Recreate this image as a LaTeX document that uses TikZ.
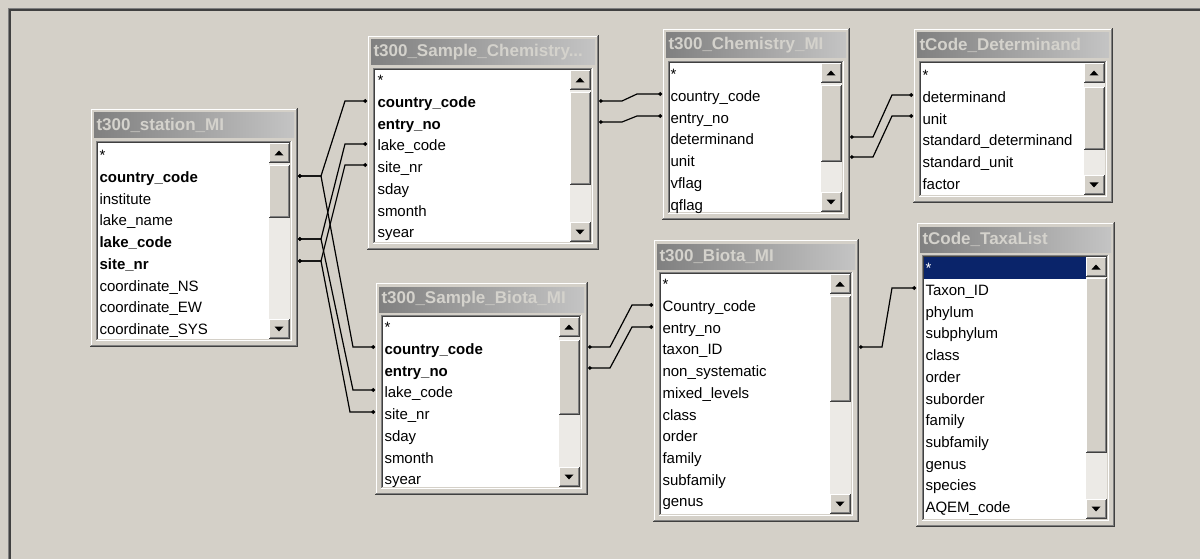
\documentclass[tikz,border=0pt]{standalone}
\usepackage{fontspec}
\setmainfont{Liberation Sans}
\usetikzlibrary{arrows.meta}
\definecolor{face}{HTML}{D4D0C8}
\definecolor{shadow}{HTML}{808080}
\definecolor{dkshadow}{HTML}{404040}
\definecolor{ltgray}{HTML}{C4C4C4}
\definecolor{track}{HTML}{ECEAE6}
\definecolor{selbg}{HTML}{0A246A}
\definecolor{ttext}{HTML}{D4D2CC}
\tikzset{
 rowtext/.style={anchor=base west, inner sep=0, font=\fontsize{15}{18}\selectfont, text=black},
 ttl/.style={anchor=west, inner sep=0, font=\fontsize{17}{20}\selectfont\bfseries, text=ttext},
 conn/.style={draw=black, line width=1.2pt, {Circle[length=3.6pt]}-{Circle[length=3.6pt]}},
}
% raised box: x1 y1 x2 y2 (y grows downward)
\newcommand\rbox[4]{%
 \fill[face] (#1,#2) rectangle (#3,#4);
 \draw[white] ({#1+0.5},{#4-1}) -- ({#1+0.5},{#2+0.5}) -- ({#3-1},{#2+0.5});
 \draw[dkshadow] ({#1},{#4-0.5}) -- ({#3-0.5},{#4-0.5}) -- ({#3-0.5},{#2});
 \draw[shadow] ({#1+1},{#4-1.5}) -- ({#3-1.5},{#4-1.5}) -- ({#3-1.5},{#2+1});
}
% window: name L T R B title thumbTop thumbBot
\newcommand\dbwin[8]{%
 \node[anchor=north west, minimum width={(#4-#2)*1pt}, minimum height={(#5-#3)*1pt}, inner sep=0, outer sep=0, fill=face] (#1) at (#2,#3) {};
 \draw[white] ({#2+1.5},{#5-2}) -- ({#2+1.5},{#3+1.5}) -- ({#4-2},{#3+1.5});
 \draw[dkshadow, line width=1.5pt] ({#2},{#5-0.75}) -- ({#4-0.75},{#5-0.75}) -- ({#4-0.75},{#3});
 \draw[shadow] ({#2+1},{#5-2}) -- ({#4-2},{#5-2}) -- ({#4-2},{#3+1});
 \shade[left color=shadow, right color=ltgray] ({#2+4},{#3+5}) rectangle ({#4-4},{#3+30});
 \node[ttl] at ({#2+6},{#3+17.5}) {#6};
 \fill[white] ({#2+6},{#3+33}) rectangle ({#4-6},{#5-6});
 \draw[shadow] ({#2+6.5},{#5-6}) -- ({#2+6.5},{#3+33.5}) -- ({#4-6},{#3+33.5});
 \draw[dkshadow] ({#2+7.5},{#5-7}) -- ({#2+7.5},{#3+34.5}) -- ({#4-7},{#3+34.5});
 \draw[white] ({#2+6},{#5-6.5}) -- ({#4-6.5},{#5-6.5}) -- ({#4-6.5},{#3+33});
 \draw[face] ({#2+7},{#5-7.5}) -- ({#4-7.5},{#5-7.5}) -- ({#4-7.5},{#3+34});
 \fill[track] ({#4-29},{#3+35}) rectangle ({#4-8},{#5-8});
 \rbox{#4-29}{#3+35}{#4-8}{#3+55}
 \rbox{#4-29}{#5-28}{#4-8}{#5-8}
 \rbox{#4-29}{#7}{#4-8}{#8}
 \fill[black] ({#4-23.5},{#3+47.5}) -- ({#4-14.5},{#3+47.5}) -- ({#4-19},{#3+42.5}) -- cycle;
 \fill[black] ({#4-23.5},{#5-20.5}) -- ({#4-14.5},{#5-20.5}) -- ({#4-19},{#5-15.5}) -- cycle;
}
% rows: x y0 list
\newcommand\dbrows[3]{%
 \foreach \t [count=\i from 0] in {#3} {\node[rowtext] at (#1, {#2+4.5+21.7*\i}) {\t};}
}
\begin{document}
\begin{tikzpicture}[x=1pt, y=-1pt, line width=1pt]
\useasboundingbox (0,0) rectangle (1200,559);
\fill[face] (0,0) rectangle (1200,559);
\draw[shadow] (8.5,559) -- (8.5,8.5) -- (1200,8.5);
\draw[dkshadow, line width=1.5pt] (10,559) -- (10,10) -- (1200,10);

% tables
\dbwin{st}{90}{108}{298}{347}{t300\_station\_MI}{165}{218}
\dbrows{99}{156.3}{*, \textbf{country\_code}, institute, lake\_name, \textbf{lake\_code}, \textbf{site\_nr}, coordinate\_NS, coordinate\_EW, coordinate\_SYS}

\dbwin{sc}{367}{35}{599}{250}{t300\_Sample\_Chemistry...}{92}{185}
\dbrows{377}{81.3}{*, \textbf{country\_code}, \textbf{entry\_no}, lake\_code, site\_nr, sday, smonth, syear}

\dbwin{ch}{662}{28}{850}{220}{t300\_Chemistry\_MI}{85}{162}
\dbrows{670}{75.3}{*, country\_code, entry\_no, determinand, unit, vflag, qflag}

\dbwin{de}{913}{28}{1113}{203}{tCode\_Determinand}{87}{150}
\dbrows{922}{76.3}{*, determinand, unit, standard\_determinand, standard\_unit, factor}

\dbwin{sb}{375}{282}{588}{495}{t300\_Sample\_Biota\_MI}{340}{415}
\dbrows{384}{328.3}{*, \textbf{country\_code}, \textbf{entry\_no}, lake\_code, site\_nr, sday, smonth, syear}

\dbwin{bi}{653}{239}{859}{522}{t300\_Biota\_MI}{296}{402}
\dbrows{662}{285.3}{*, Country\_code, entry\_no, taxon\_ID, non\_systematic, mixed\_levels, class, order, family, subfamily, genus}

\dbwin{tl}{916}{222}{1115}{527}{tCode\_TaxaList}{278}{453}
\fill[selbg] (924,257) rectangle (1086,279);
\node[rowtext, text=white] at (925, 273.8) {*};
\dbrows{925}{291}{Taxon\_ID, phylum, subphylum, class, order, suborder, family, subfamily, genus, species, AQEM\_code}

% connector end points
\coordinate (st-cc) at (298,176);
\coordinate (st-lc) at (298,239);
\coordinate (st-sn) at (298,261);
\coordinate (sc-cc-l) at (367,101);
\coordinate (sc-lc-l) at (367,144);
\coordinate (sc-sn-l) at (367,165);
\coordinate (sb-cc-l) at (375,347);
\coordinate (sb-lc-l) at (375,390);
\coordinate (sb-sn-l) at (375,412);
\coordinate (sc-cc-r) at (599,101);
\coordinate (sc-en-r) at (599,122);
\coordinate (ch-cc-l) at (662,94);
\coordinate (ch-en-l) at (662,116);
\coordinate (ch-de-r) at (850,137);
\coordinate (ch-un-r) at (850,157);
\coordinate (de-de-l) at (913,95);
\coordinate (de-un-l) at (913,116);
\coordinate (sb-cc-r) at (588,347);
\coordinate (sb-en-r) at (588,368);
\coordinate (bi-cc-l) at (653,305);
\coordinate (bi-en-l) at (653,327);
\coordinate (bi-tx-r) at (859,347);
\coordinate (tl-tx-l) at (916,288);

% connectors
\draw[conn] (st-cc) -- ++(23,0) -- ([xshift=-22pt]sc-cc-l) -- (sc-cc-l);
\draw[conn] (st-cc) -- ++(23,0) -- ([xshift=-22pt]sb-cc-l) -- (sb-cc-l);
\draw[conn] (st-lc) -- ++(23,0) -- ([xshift=-22pt]sc-lc-l) -- (sc-lc-l);
\draw[conn] (st-lc) -- ++(23,0) -- ([xshift=-22pt]sb-lc-l) -- (sb-lc-l);
\draw[conn] (st-sn) -- ++(23,0) -- ([xshift=-22pt]sc-sn-l) -- (sc-sn-l);
\draw[conn] (st-sn) -- ++(23,0) -- ([xshift=-25pt]sb-sn-l) -- (sb-sn-l);
\draw[conn] (sc-cc-r) -- ++(23,0) -- ([xshift=-25pt]ch-cc-l) -- (ch-cc-l);
\draw[conn] (sc-en-r) -- ++(23,0) -- ([xshift=-25pt]ch-en-l) -- (ch-en-l);
\draw[conn] (ch-de-r) -- ++(23,0) -- ([xshift=-21pt]de-de-l) -- (de-de-l);
\draw[conn] (ch-un-r) -- ++(23,0) -- ([xshift=-21pt]de-un-l) -- (de-un-l);
\draw[conn] (sb-cc-r) -- ++(22,0) -- ([xshift=-21pt]bi-cc-l) -- (bi-cc-l);
\draw[conn] (sb-en-r) -- ++(22,0) -- ([xshift=-21pt]bi-en-l) -- (bi-en-l);
\draw[conn] (bi-tx-r) -- ++(23,0) -- ([xshift=-24pt]tl-tx-l) -- (tl-tx-l);
\end{tikzpicture}
\end{document}
